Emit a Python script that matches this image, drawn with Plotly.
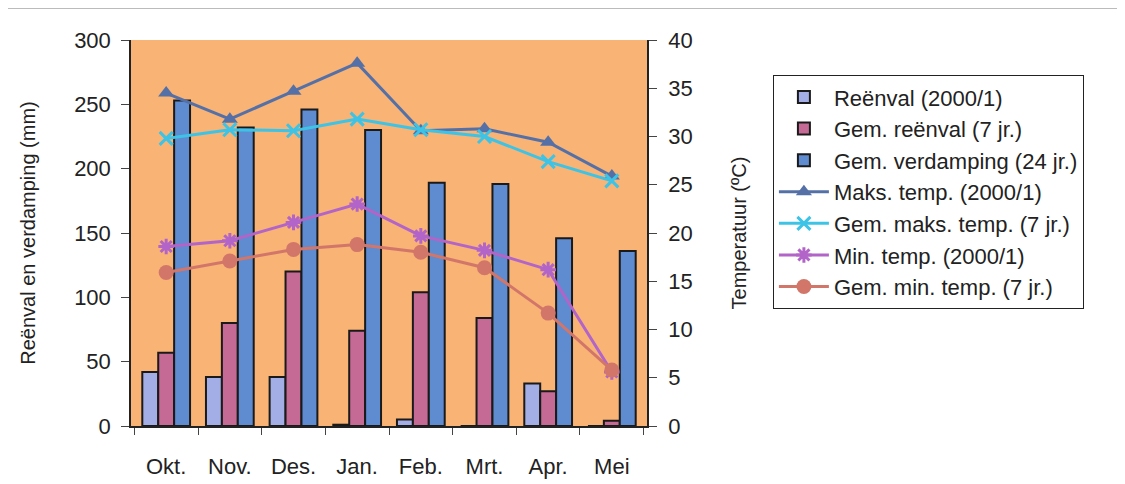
import plotly.graph_objects as go

months = ["Okt.", "Nov.", "Des.", "Jan.", "Feb.", "Mrt.", "Apr.", "Mei"]
reenval = [42, 38, 38, 1, 5, 0, 33, 0]
gem_reenval = [57, 80, 120, 74, 104, 84, 27, 4]
gem_verdamping = [253, 232, 246, 230, 189, 188, 146, 136]
maks_temp = [34.5, 31.8, 34.7, 37.6, 30.6, 30.8, 29.4, 25.9]
gem_maks_temp = [29.8, 30.7, 30.6, 31.8, 30.7, 30.0, 27.4, 25.4]
min_temp = [18.6, 19.2, 21.1, 23.0, 19.7, 18.2, 16.2, 5.6]
gem_min_temp = [15.9, 17.1, 18.3, 18.8, 18.0, 16.4, 11.7, 5.8]

font = "Liberation Sans, Arial, sans-serif"
fig = go.Figure()
bar_line = dict(color="#1a1a1a", width=2)
fig.add_trace(go.Bar(x=months, y=reenval, name="Reënval (2000/1)", legendgroup="a",
                     marker=dict(color="#A3AEE6", line=bar_line)))
fig.add_trace(go.Bar(x=months, y=gem_reenval, name="Gem. reënval (7 jr.)", legendgroup="b",
                     marker=dict(color="#C46A95", line=bar_line)))
fig.add_trace(go.Bar(x=months, y=gem_verdamping, name="Gem. verdamping (24 jr.)", legendgroup="c",
                     marker=dict(color="#5F8BD0", line=bar_line)))
fig.add_trace(go.Scatter(x=months, y=maks_temp, name="Maks. temp. (2000/1)", yaxis="y2",
                         legendgroup="d",
                         mode="lines+markers", line=dict(color="#5570A6", width=3),
                         marker=dict(symbol="triangle-up", size=14, color="#5570A6")))
fig.add_trace(go.Scatter(x=months, y=gem_maks_temp, name="Gem. maks. temp. (7 jr.)", yaxis="y2",
                         legendgroup="e",
                         mode="lines+markers", line=dict(color="#3CC3E6", width=3),
                         marker=dict(symbol="x-thin", size=13, color="#3CC3E6",
                                     line=dict(color="#3CC3E6", width=3))))
fig.add_trace(go.Scatter(x=months, y=min_temp, name="Min. temp. (2000/1)", yaxis="y2",
                         legendgroup="f",
                         mode="lines+markers", line=dict(color="#B264C8", width=3),
                         marker=dict(symbol="asterisk", size=13, color="#B264C8",
                                     line=dict(color="#B264C8", width=3))))
fig.add_trace(go.Scatter(x=months, y=gem_min_temp, name="Gem. min. temp. (7 jr.)", yaxis="y2",
                         legendgroup="g",
                         mode="lines+markers", line=dict(color="#D2766A", width=3),
                         marker=dict(symbol="circle", size=15, color="#D2766A")))

fig.update_layout(
    width=1117, height=476,
    margin=dict(l=123, r=478, t=32, b=58),
    paper_bgcolor="white", plot_bgcolor="#F8B375",
    barmode="group", bargap=0.25, bargroupgap=0,
    font=dict(family=font, size=22, color="#222222"),
    xaxis=dict(type="category", tickson="boundaries", ticks="outside", ticklen=7,
               showline=True, linecolor="#222222", linewidth=1.5, showgrid=False,
               tickfont=dict(size=22), ticklabelstandoff=20, automargin=False),
    yaxis=dict(range=[0, 300], dtick=50, ticks="outside", ticklen=8, showline=True,
               linecolor="#222222", linewidth=1.5, showgrid=False, zeroline=False,
               tickfont=dict(size=22), ticklabelstandoff=6, automargin=False,
               title=dict(text="Reënval en verdamping (mm)", font=dict(size=20), standoff=33)),
    yaxis2=dict(range=[0, 40], dtick=5, overlaying="y", side="right", ticks="outside",
                ticklen=8, showline=True, linecolor="#222222", linewidth=1.5,
                showgrid=False, zeroline=False, tickfont=dict(size=22), ticklabelstandoff=7,
                automargin=False,
                title=dict(text="Temperatuur (ºC)", font=dict(size=20), standoff=40)),
    legend=dict(x=1.244, y=0.909, xanchor="left", yanchor="top",
                bordercolor="#222222", borderwidth=1, bgcolor="white",
                font=dict(size=22), traceorder="normal", itemwidth=50,
                tracegroupgap=4),
    showlegend=True,
)
fig.add_shape(type="rect", xref="paper", yref="paper", x0=-0.5, x1=1.9186, y0=-0.3, y1=1.0816,
              line=dict(color="#BBBBBB", width=1), fillcolor="rgba(0,0,0,0)", layer="below")
fig.write_html("out.html")
